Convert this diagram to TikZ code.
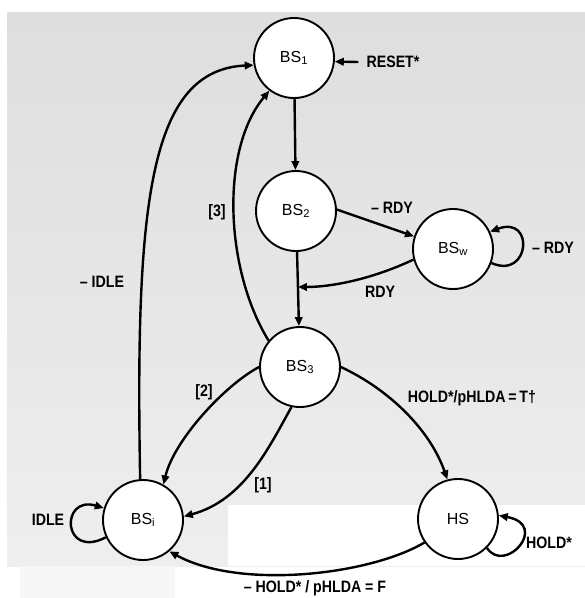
\documentclass[tikz,border=0pt]{standalone}
\usepackage{fontspec}
\setmainfont{Liberation Sans}
\newfontfamily\lblfont[FakeStretch=0.86]{Liberation Sans}
\usetikzlibrary{arrows.meta,calc}
\begin{document}
\begin{tikzpicture}[x=1pt,y=-1pt,
  st/.style={circle,draw,line width=1.9pt,fill=white,minimum size=80pt,inner sep=0pt,font=\fontsize{16}{16}\selectfont},
  lbl/.style={font=\lblfont\bfseries\fontsize{16.5}{17}\selectfont,inner sep=1pt},
  tr/.style={line width=2.4pt,-{Triangle[length=9pt,width=7.5pt]}},
]
\useasboundingbox (0,0) rectangle (585,598);
% scanned background
\fill[white] (0,0) rectangle (585,598);
\shade[top color=gray!26,bottom color=gray!13] (7,12) rectangle (585,566);
\fill[white] (228,505) rectangle (585,566);
\fill[gray!6] (20,566) rectangle (175,598);

% states
\node[st] (BS1) at (294,58) {BS\textsubscript{1}};
\node[st] (BS2) at (296,211) {BS\textsubscript{2}};
\node[st] (BSw) at (453,249) {BS\textsubscript{w}};
\node[st] (BS3) at (300,367) {BS\textsubscript{3}};
\node[st] (BSi) at (143,520) {BS\textsubscript{i}};
\node[st] (HS) at (458,519) {HS};

\coordinate (m) at ($(BS2)!0.487!(BS3)$);

% labels
\node[lbl] (lreset) at (393,62) {RESET*};
\node[lbl] (lnrdy) at (392,208) {– RDY};
\node[lbl] (lnrdyw) at (553,248) {– RDY};
\node[lbl] (lrdy) at (380,292) {RDY};
\node[lbl] (l3) at (217,212) {[3]};
\node[lbl] (lnidle) at (102,282) {– IDLE};
\node[lbl] (l2) at (204,392) {[2]};
\node[lbl] (l1) at (263,485) {[1]};
\node[lbl] (lholdt) at (472,398) {HOLD*/pHLDA\,=\,T\dag};
\node[lbl] (lidle) at (48,520) {IDLE};
\node[lbl] (lhold) at (549,543) {HOLD*};
\node[lbl] (lholdf) at (315,588) {– HOLD* / pHLDA = F};

% connectors
\draw[tr] ([xshift=-7pt]lreset.west) -- (BS1.-5);
\draw[tr] (BS1) -- (BS2);
\draw[tr] (BS2) -- (BS3);
\draw[tr] (BS2.2) -- (BSw.162);
\draw[tr] (BSw.195) .. controls (370,280) and (330,287) .. (m);
\draw[tr] (BSw.-20) .. controls (530,280) and (535,215) .. (BSw.25);
\draw[tr] (BS3.140) .. controls (225,270) and (220,150) .. (BS1.233);
\draw[tr] (BSi.94) .. controls (135,200) and (150,70) .. (BS1.190);
\draw[tr] (BS3.180) .. controls (225,385) and (174,440) .. (BSi.60);
\draw[tr] (BS3.-102) .. controls (270,445) and (245,500) .. (BSi.5);
\draw[tr] (BS3.0) .. controls (390,390) and (430,430) .. (HS.105);
\draw[tr] (HS.-145) .. controls (370,575) and (240,590) .. (BSi.-50);
\draw[tr] (BSi.205) .. controls (62,560) and (60,495) .. (BSi.163);
\draw[tr] (HS.-45) .. controls (505,575) and (550,525) .. (HS.5);
\end{tikzpicture}
\end{document}
